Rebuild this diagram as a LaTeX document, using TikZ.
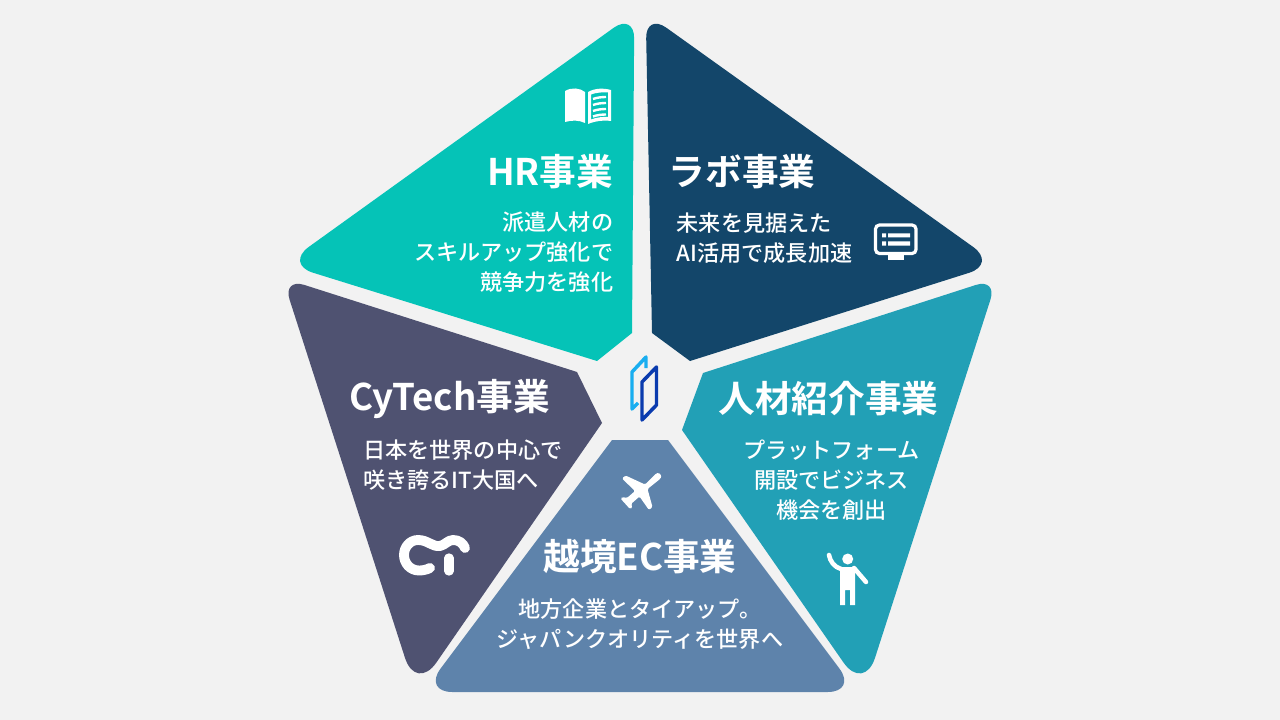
\documentclass[tikz,border=0pt]{standalone}
\usepackage{fontspec}
\setmainfont{Noto Sans CJK JP Medium}[BoldFont={Noto Sans CJK JP Bold}]
\definecolor{bgc}{HTML}{F2F2F2}
\definecolor{hrc}{HTML}{05C3B7}
\definecolor{labc}{HTML}{13466A}
\definecolor{jobc}{HTML}{22A0B6}
\definecolor{cyc}{HTML}{4F5271}
\definecolor{ecc}{HTML}{5E83AB}
\definecolor{logol}{HTML}{19AEF0}
\definecolor{logod}{HTML}{0A3BAE}
\tikzset{
  ttl/.style={text=white,font=\fontsize{27.5}{30}\selectfont\bfseries,inner sep=0pt,anchor=center},
  bod/.style={text=white,font=\fontsize{16.6}{22.6}\selectfont,inner sep=0pt,align=center,anchor=center},
  bodr/.style={bod,align=right,anchor=east},
  bodl/.style={bod,align=left,anchor=west},
}
\begin{document}
\begin{tikzpicture}[x=0.75pt,y=-0.75pt]
\useasboundingbox (0,0) rectangle (1280,720);
\fill[bgc] (0,0) rectangle (1280,720);
% segments
\fill[hrc] (597,361) [rounded corners=22pt] -- (285,264) [rounded corners=19pt] -- (634.3,13) [sharp corners] -- (632,333) -- cycle;
\fill[labc] (690,361) [rounded corners=22pt] -- (997,264) [rounded corners=19pt] -- (645.7,13) [sharp corners] -- (652,333) -- cycle;
\fill[jobc] (703,373) [rounded corners=17pt] -- (997.4,278) [rounded corners=27pt] -- (864,692) [sharp corners] -- (682,430) -- cycle;
\fill[cyc] (577,372) [rounded corners=17pt] -- (282.6,278) [rounded corners=27pt] -- (416,692) [sharp corners] -- (602,423) -- cycle;
\fill[ecc] (612,440) [rounded corners=22pt] -- (423,692) -- (857,692) [sharp corners] -- (668,440) -- cycle;
% logo
\draw[logol,line width=2.6pt,line join=round] (646,368) -- (646,357) -- (632,372) -- (632,409) -- (638,403);
\draw[logod,line width=2.6pt,line join=round] (642,382) -- (656.5,367) -- (656.5,405) -- (642,420) -- cycle;
% texts
\node[ttl,anchor=east] (hrt) at (613.5,172) {HR事業};
\node[bodr,anchor=east] (hrb) at (613.5,252) {派遣人材の\\スキルアップ強化で\\競争力を強化};
\node[ttl,anchor=west] (labt) at (668.5,172) {ラボ事業};
\node[bodl] (labb) at (676.5,238) {未来を見据えた\\AI活用で成長加速};
\node[ttl] (jobt) at (828.5,399) {人材紹介事業};
\node[bod] (jobb) at (831.5,480) {プラットフォーム\\開設でビジネス\\機会を創出};
\node[ttl] (cyt) at (449.5,399) {CyTech事業};
\node[bodl] (cyb) at (363,465) {日本を世界の中心で\\咲き誇るIT大国へ};
\node[ttl] (ect) at (640,557) {越境EC事業};
\node[bod] (ecb) at (640,624) {地方企業とタイアップ。\\ジャパンクオリティを世界へ};
% book
\fill[white] (565,91) .. controls (572,87) and (580,88) .. (585,92) -- (585,123) .. controls (579,120) and (572,120) .. (565,122) -- cycle;
\fill[white,even odd rule] (588,92) .. controls (595,88) and (604,88) .. (611,90) -- (611,121) .. controls (604,120) and (595,121) .. (588,124) -- cycle
 (591,94.5) -- (591,119.5) .. controls (596,117.5) and (603,116.5) .. (608,117) -- (608,92.5) .. controls (603,92) and (596,92.5) .. (591,94.5) -- cycle;
\foreach \yy in {98,104,110,115.5}{\draw[white,line width=1.8pt] (593,\yy+1) .. controls (597,\yy-0.5) and (602,\yy-1) .. (606,\yy-1);}
% monitor
\draw[white,line width=2.4pt,rounded corners=3pt] (875.5,225) rectangle (916,253.5);
\fill[white] (888,253) rectangle (904,259.5);
\fill[white] (882,233.5) rectangle (886,237.5) (888,233.5) rectangle (910,237.5)
 (882,241.5) rectangle (886,245.5) (888,241.5) rectangle (910,245.5);
% CT logo
\draw[white,line width=7.4pt,line cap=round,line join=round] (430,568) .. controls (426,570) and (422,570.5) .. (419,570.5) .. controls (410,570.5) and (404,563) .. (404,555) .. controls (404,547) and (410,540) .. (418,540) .. controls (428,540) and (432,547) .. (440,546) .. controls (445,545) and (448,540) .. (453,540) .. controls (459,540) and (463,543) .. (465,548);
\draw[white,line width=7pt,line cap=round] (449,558) -- (449,571);
% plane
\fill[white,rounded corners=1pt] (656,473.5) .. controls (660,472.5) and (662,476) .. (660,479) -- (647.5,489) -- (652.5,507) -- (649,510) -- (639.5,496.5) -- (631,504) -- (632.5,507.5) -- (630,509) -- (620.5,498.5) -- (622.5,497) -- (627,498) -- (635,491) -- (622,478.5) -- (625.5,475.5) -- (645,484.5) -- cycle;
% person
\fill[white] (847.7,559) circle (5.5);
\fill[white] (840,567) -- (855,567) -- (855,605) -- (850,605) -- (850,590) -- (845,590) -- (845,605) -- (840,605) -- cycle;
\draw[white,line width=3.4pt,line cap=round] (841,569) .. controls (834,567) and (830,561) .. (829,555);
\draw[white,line width=3.4pt,line cap=round] (854,568) -- (866,582);
\end{tikzpicture}
\end{document}
